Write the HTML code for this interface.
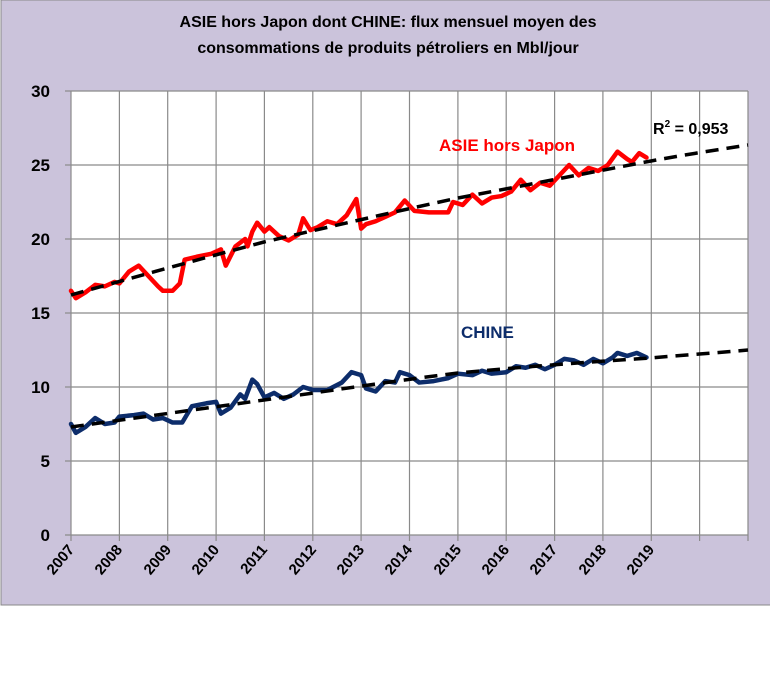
<!DOCTYPE html>
<html><head><meta charset="utf-8"><style>
body{margin:0;background:#fff;}
svg{display:block;font-family:"Liberation Sans",sans-serif;}
</style></head><body>
<svg width="770" height="678" viewBox="0 0 770 678">
<rect x="1" y="0" width="775" height="605" fill="#cbc3db" stroke="#888" stroke-width="1"/>
<rect x="71" y="91" width="677" height="444" fill="#fff"/>
<g stroke="#8a8a8a" stroke-width="1.2">
<line x1="71" y1="91" x2="748" y2="91"/><line x1="71" y1="165" x2="748" y2="165"/><line x1="71" y1="239" x2="748" y2="239"/><line x1="71" y1="313" x2="748" y2="313"/><line x1="71" y1="387" x2="748" y2="387"/><line x1="71" y1="461" x2="748" y2="461"/><line x1="65" y1="535" x2="748" y2="535"/>
<line x1="71" y1="91" x2="71" y2="541"/><line x1="119.4" y1="91" x2="119.4" y2="541"/><line x1="167.7" y1="91" x2="167.7" y2="541"/><line x1="216.1" y1="91" x2="216.1" y2="541"/><line x1="264.4" y1="91" x2="264.4" y2="541"/><line x1="312.8" y1="91" x2="312.8" y2="541"/><line x1="361.1" y1="91" x2="361.1" y2="541"/><line x1="409.5" y1="91" x2="409.5" y2="541"/><line x1="457.9" y1="91" x2="457.9" y2="541"/><line x1="506.2" y1="91" x2="506.2" y2="541"/><line x1="554.6" y1="91" x2="554.6" y2="541"/><line x1="602.9" y1="91" x2="602.9" y2="541"/><line x1="651.3" y1="91" x2="651.3" y2="541"/><line x1="699.6" y1="91" x2="699.6" y2="541"/><line x1="748" y1="91" x2="748" y2="541"/>
<line x1="65" y1="91" x2="71" y2="91"/><line x1="65" y1="165" x2="71" y2="165"/><line x1="65" y1="239" x2="71" y2="239"/><line x1="65" y1="313" x2="71" y2="313"/><line x1="65" y1="387" x2="71" y2="387"/><line x1="65" y1="461" x2="71" y2="461"/>
</g>
<g font-size="17" font-weight="bold" text-anchor="end" fill="#000">
<text x="50" y="97">30</text><text x="50" y="171">25</text><text x="50" y="245">20</text><text x="50" y="319">15</text><text x="50" y="393">10</text><text x="50" y="467">5</text><text x="50" y="541">0</text>
</g>
<g font-size="15" font-weight="bold" fill="#000" text-anchor="end">
<text transform="translate(75,550) rotate(-50)">2007</text>
<text transform="translate(123,550) rotate(-50)">2008</text>
<text transform="translate(172,550) rotate(-50)">2009</text>
<text transform="translate(220,550) rotate(-50)">2010</text>
<text transform="translate(268,550) rotate(-50)">2011</text>
<text transform="translate(317,550) rotate(-50)">2012</text>
<text transform="translate(365,550) rotate(-50)">2013</text>
<text transform="translate(413,550) rotate(-50)">2014</text>
<text transform="translate(462,550) rotate(-50)">2015</text>
<text transform="translate(510,550) rotate(-50)">2016</text>
<text transform="translate(558,550) rotate(-50)">2017</text>
<text transform="translate(607,550) rotate(-50)">2018</text>
<text transform="translate(655,550) rotate(-50)">2019</text>
</g>
<g font-size="16" font-weight="bold" text-anchor="middle" fill="#000">
<text x="388" y="27">ASIE hors Japon dont CHINE: flux mensuel moyen des</text>
<text x="388" y="53">consommations  de produits pétroliers  en Mbl/jour</text>
</g>
<g transform="translate(71,535) scale(48.36,-14.8)" fill="none" stroke-linejoin="round" stroke-linecap="round">
<polyline vector-effect="non-scaling-stroke" stroke="#ff0000" stroke-width="4.5" points="0,16.5 0.1,16.0 0.3,16.4 0.5,16.9 0.7,16.8 0.9,17.1 1.0,17.0 1.2,17.8 1.4,18.2 1.6,17.5 1.8,16.8 1.9,16.5 2.1,16.5 2.25,17.0 2.35,18.6 2.6,18.8 2.9,19.0 3.1,19.3 3.2,18.2 3.4,19.5 3.6,20.0 3.65,19.5 3.75,20.5 3.85,21.1 4.0,20.5 4.1,20.8 4.3,20.2 4.5,19.9 4.7,20.3 4.8,21.4 4.95,20.6 5.1,20.8 5.3,21.2 5.5,21.0 5.7,21.6 5.9,22.7 6.0,20.7 6.1,21.0 6.3,21.2 6.5,21.5 6.7,21.8 6.9,22.6 7.1,21.9 7.4,21.8 7.8,21.8 7.9,22.5 8.1,22.3 8.3,23.0 8.5,22.4 8.7,22.8 8.9,22.9 9.1,23.2 9.3,24.0 9.5,23.3 9.7,23.8 9.9,23.6 10.1,24.3 10.3,25.0 10.5,24.3 10.7,24.8 10.9,24.6 11.1,25.0 11.3,25.9 11.5,25.4 11.6,25.2 11.75,25.8 11.9,25.5"/>
<polyline vector-effect="non-scaling-stroke" stroke="#0d2d6b" stroke-width="4.5" points="0,7.5 0.1,6.9 0.3,7.3 0.5,7.9 0.7,7.5 0.9,7.6 1.0,8.0 1.3,8.1 1.5,8.2 1.7,7.8 1.9,7.9 2.1,7.6 2.3,7.6 2.5,8.7 2.8,8.9 3.0,9.0 3.1,8.2 3.3,8.6 3.5,9.5 3.6,9.2 3.75,10.5 3.85,10.2 4.0,9.3 4.2,9.6 4.4,9.2 4.6,9.5 4.8,10.0 5.0,9.8 5.3,9.8 5.6,10.3 5.8,11.0 6.0,10.8 6.1,9.9 6.3,9.7 6.5,10.4 6.7,10.3 6.8,11.0 7.0,10.8 7.2,10.3 7.5,10.4 7.8,10.6 8.0,10.9 8.3,10.8 8.5,11.1 8.7,10.9 9.0,11.0 9.2,11.4 9.4,11.3 9.6,11.5 9.8,11.2 10.0,11.5 10.2,11.9 10.4,11.8 10.6,11.5 10.8,11.9 11.0,11.6 11.2,12.0 11.3,12.3 11.5,12.1 11.7,12.3 11.9,12.0"/>
</g>
<g stroke="#000" stroke-width="3.5" stroke-dasharray="13,8" fill="none">
<path d="M71,295 C135,277 200,259 264,242 C329,227 393,212 458,198 C522,186 587,173 651,161 C683,155 716,150 748,145"/>
<path d="M71,427 C135,418 200,409 264,400 C329,391 393,381 458,373 C522,367 587,362 651,358 C683,355 716,353 748,350"/>
</g>
<text x="439" y="151" font-size="17" font-weight="bold" fill="#ff0000">ASIE hors Japon</text>
<text x="461" y="338" font-size="17" font-weight="bold" fill="#0d2d6b">CHINE</text>
<text x="653" y="134" font-size="16" font-weight="bold" fill="#000">R<tspan font-size="10" dy="-7">2</tspan><tspan dy="7"> = 0,953</tspan></text>
</svg>
</body></html>
